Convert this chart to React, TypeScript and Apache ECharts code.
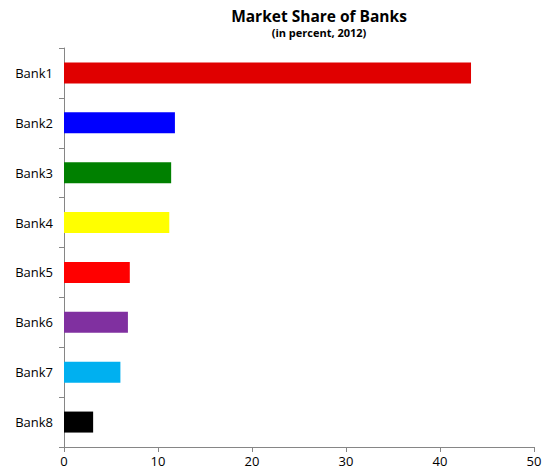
import React, { useEffect, useRef } from "react";
import * as echarts from "echarts";

const categories = ["Bank1", "Bank2", "Bank3", "Bank4", "Bank5", "Bank6", "Bank7", "Bank8"];
const values = [43.3, 11.8, 11.4, 11.2, 7.0, 6.8, 6.0, 3.1];
const colors = ["#e00000", "#0000ff", "#008000", "#ffff00", "#ff0000", "#8030a0", "#00b0f0", "#000000"];
const xTicks = [0, 10, 20, 30, 40, 50];

export default function App() {
  const ref = useRef<HTMLDivElement>(null);
  useEffect(() => {
    const chart = echarts.init(ref.current!, null, { renderer: "svg" });
    const font = "'Open Sans', 'DejaVu Sans', sans-serif";
    chart.setOption({
      animation: false,
      backgroundColor: "#ffffff",
      title: {
        text: "Market Share of Banks",
        subtext: "(in percent, 2012)",
        left: 314,
        textAlign: "center",
        top: 1,
        itemGap: 1,
        textStyle: { fontFamily: font, fontWeight: "bold", fontSize: 15.5, lineHeight: 19, color: "#000" },
        subtextStyle: { fontFamily: font, fontWeight: "bold", fontSize: 11, lineHeight: 13, color: "#000" },
      },
      grid: { left: 64, right: 14, top: 48, bottom: 27, containLabel: false },
      xAxis: {
        type: "value",
        min: xTicks[0],
        max: xTicks[xTicks.length - 1],
        interval: 10,
        axisLine: { show: true, lineStyle: { color: "#868686", width: 1 } },
        axisTick: { show: true, length: 5, lineStyle: { color: "#868686" } },
        splitLine: { show: false },
        axisLabel: { fontFamily: font, fontSize: 13, color: "#000", margin: 7 },
      },
      yAxis: {
        type: "category",
        inverse: true,
        data: categories,
        axisLine: { show: true, lineStyle: { color: "#868686", width: 1 } },
        axisTick: { show: true, length: 5, lineStyle: { color: "#868686" } },
        axisLabel: { fontFamily: font, fontSize: 13, color: "#000", margin: 11 },
      },
      series: [
        {
          type: "bar",
          barWidth: 21,
          data: values.map((v, i) => ({ value: v, itemStyle: { color: colors[i] } })),
        },
      ],
    });
    return () => chart.dispose();
  }, []);
  return <div ref={ref} style={{ width: 548, height: 474, position: "absolute", left: 0, top: 0 }} />;
}
